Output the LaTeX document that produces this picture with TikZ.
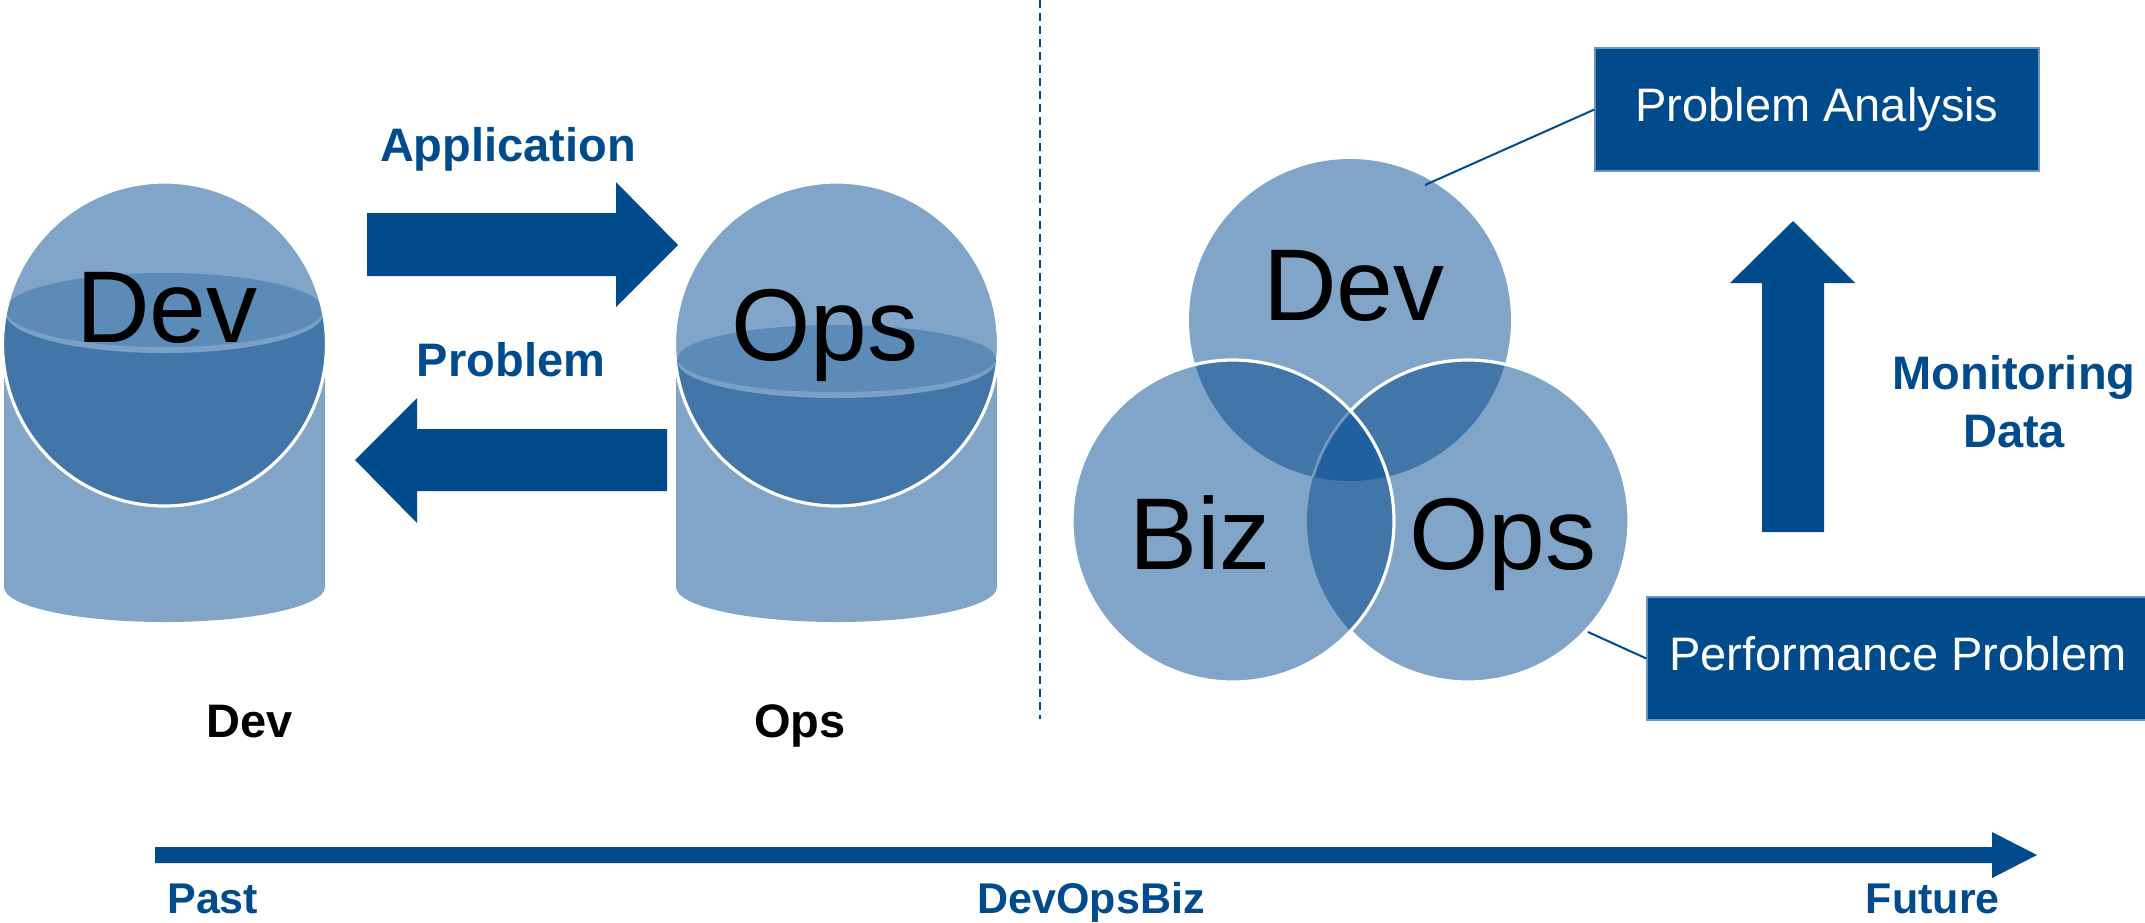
\documentclass[tikz,border=0pt]{standalone}
\usepackage{fontspec}
\setmainfont{Liberation Sans}

\definecolor{navy}{HTML}{004B8C}
\definecolor{pale}{HTML}{80A5C8}
\definecolor{mid}{HTML}{4276A8}
\definecolor{deep}{HTML}{21609E}
\definecolor{surface}{HTML}{5B8BB6}
\definecolor{rim}{HTML}{7AA0C6}
\definecolor{edge}{HTML}{6A93C0}

% A drum: cylinder body with a half-filled sphere on top.
% #1 centre x, #2 liquid level, #3 half-height of the liquid surface, #4 name
\newcommand\drumshape[4]{%
  \fill[pale] ({#1-160.5},344) -- ({#1-160.5},587)
    arc[start angle=180, end angle=0, x radius=160.5, y radius=35]
    -- ({#1+160.5},344) -- cycle;
  \coordinate (#4) at (#1,344);
  \fill[pale] (#4) circle[radius=162];
  \begin{scope}
    \clip (#4) circle[radius=162];
    \fill[mid] ({#1-170},{#2-3}) rectangle ({#1+170},520);
    \fill[rim] ({#1-159},#2) arc[start angle=180, end angle=0, x radius=159, y radius=#3] -- cycle;
    \fill[surface] (#1,{#2-3}) ellipse[x radius=159, y radius={#3-3}];
  \end{scope}
  \draw[ring] (#4) circle[radius=162];
}

\begin{document}
\begin{tikzpicture}[x=0.5pt, y=-0.5pt,
  block/.style={fill=navy},
  lbl/.style={text=navy, font=\bfseries\fontsize{23.5}{29}\selectfont, inner sep=0},
  tag/.style={text=black, font=\bfseries\fontsize{23.5}{29}\selectfont, inner sep=0},
  big/.style={text=black, font=\fontsize{51}{60}\selectfont, inner sep=0},
  axis/.style={text=navy, font=\bfseries\fontsize{21.5}{26}\selectfont, inner sep=0},
  panel/.style={fill=navy, draw=edge, line width=0.6pt, text=white,
    font=\fontsize{23.5}{28}\selectfont, minimum height=61.5pt,
    text height=17.2pt, text depth=5.2pt, inner sep=0},
  link/.style={draw=navy, line width=1pt},
  ring/.style={draw=white, line width=1.6pt},
  divider/.style={draw=navy, line width=1pt, dash pattern=on 4pt off 2.5pt}]

\useasboundingbox (0,0) rectangle (2145,922);

% ---- left half: Dev and Ops as separate drums ----
\drumshape{164.5}{313}{40}{devdrum}
\drumshape{836.5}{361.5}{36.5}{opsdrum}
\node[big, anchor=base] (devbig) at (167,342) {Dev};
\node[big, anchor=base] (opsbig) at (825,360) {Ops};

\node[tag, anchor=base] (devtag) at (250,737) {Dev};
\node[tag, anchor=base] (opstag) at (800,737) {Ops};

% hand-over arrows
\fill[block] (367,213) -- (616,213) -- (616,182) -- (678,245) -- (616,307) -- (616,276) -- (367,276) -- cycle;
\fill[block] (667,429) -- (417,429) -- (417,398) -- (355,460) -- (417,523) -- (417,491) -- (667,491) -- cycle;
\node[lbl, anchor=base] (applbl) at (508,161) {Application};
\node[lbl, anchor=base] (problbl) at (511,376) {Problem};

% separator
\draw[divider] (1040,0) -- (1040,719);

% ---- right half: overlapping Dev / Biz / Ops ----
\coordinate (vdev) at (1350,320);
\coordinate (vbiz) at (1233,521);
\coordinate (vops) at (1468,521);
\fill[pale] (vdev) circle[radius=161];
\fill[pale] (vbiz) circle[radius=161];
\fill[pale] (vops) circle[radius=161];
\begin{scope}
  \clip (vdev) circle[radius=161];
  \fill[mid] (vbiz) circle[radius=161];
  \fill[mid] (vops) circle[radius=161];
\end{scope}
\begin{scope}
  \clip (vbiz) circle[radius=161];
  \fill[mid] (vops) circle[radius=161];
\end{scope}
\begin{scope}
  \clip (vdev) circle[radius=161];
  \clip (vbiz) circle[radius=161];
  \fill[deep] (vops) circle[radius=161];
  \draw[draw=white, opacity=0.3, line width=1.4pt] (vops) circle[radius=161];
\end{scope}
\draw[ring] (vops) ++(-136.9:161) arc[start angle=-136.9, end angle=136.9, radius=161];
\draw[ring] (vbiz) circle[radius=161];

\node[big, anchor=base] (vdevtxt) at (1354,320) {Dev};
\node[big, anchor=base] (vbiztxt) at (1200,569) {Biz};
\node[big, anchor=base] (vopstxt) at (1503,569) {Ops};

% callouts
\node[panel, minimum width=222pt] (pa) at (1817,109.5) {Problem Analysis};
\node[panel, minimum width=251pt] (pp) at (1898,658.5) {Performance Problem};
\coordinate (padock) at (1425,185);
\coordinate (ppdock) at (1588,632);
\draw[link] (padock) -- (pa.west);
\draw[link] (ppdock) -- (pp.west);

% monitoring feedback
\fill[block] (1762,532) -- (1762,283) -- (1730,283) -- (1793,221) -- (1855,283) -- (1824,283) -- (1824,532) -- cycle;
\node[lbl, align=center, anchor=north] (monlbl) at (2014,354.6) {Monitoring\\Data};

% ---- timeline ----
\fill[block] (155,847) -- (1992,847) -- (1992,832) -- (2037,855) -- (1992,878) -- (1992,863) -- (155,863) -- cycle;
\node[axis, anchor=base west] (past) at (167,913) {Past};
\node[axis, anchor=base] (centrelbl) at (1091,913) {DevOpsBiz};
\node[axis, anchor=base east] (future) at (2000,913) {Future};
\end{tikzpicture}
\end{document}
